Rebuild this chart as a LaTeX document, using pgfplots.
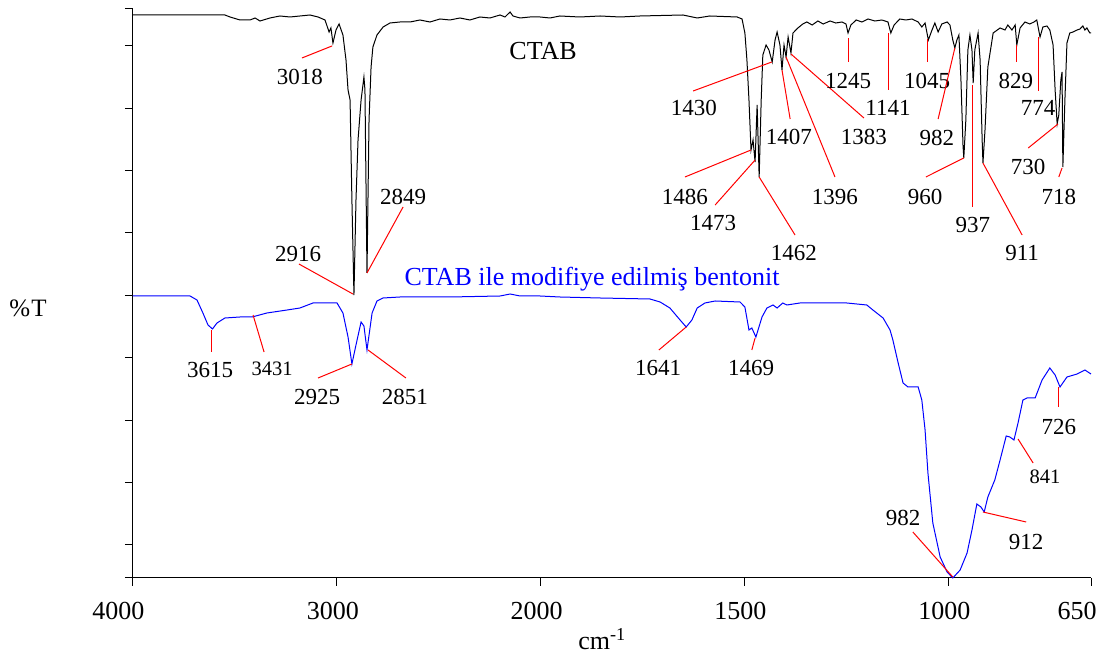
\documentclass[border=0pt]{standalone}
\usepackage{pgfplots}
\pgfplotsset{compat=1.18}
\usepackage{fontspec}
\setmainfont{Liberation Serif}
\definecolor{pblue}{RGB}{0,0,255}
\definecolor{pred}{RGB}{255,0,0}
\begin{document}
\begin{tikzpicture}[
  lab/.style={font=\fontsize{23}{23}\selectfont, inner sep=0pt, anchor=center},
  labs/.style={font=\fontsize{20.5}{20.5}\selectfont, inner sep=0pt, anchor=center},
  ann/.style={pred, line width=1pt},
]
\useasboundingbox (-133pt,-77pt) rectangle (976pt,578pt);
\begin{axis}[
  at={(0,0)}, anchor=south west,
  scale only axis, width=958pt, height=569pt,
  x coord trafo/.code={\pgfmathparse{#1>=2000 ? 4000-#1 : 6000-2*#1}},
  xmin=4000, xmax=650, ymin=0, ymax=569,
  axis lines=left, axis line style={-, line width=1pt},
  tick align=outside, major tick length=8pt,
  tick style={black, line width=1pt},
  xtick={4000,3000,2000,1500,1000,650},
  xticklabels={4000\hspace*{21pt},3000,2000,1500,1000,650\hspace*{20pt}},
  xticklabel style={font=\fontsize{26}{26}\selectfont, anchor=north, inner sep=0pt, xshift=-4pt, yshift=-16pt},
  ytick={0,33,95.4,157.8,220.2,282.6,345,407.4,469.8,532.2,569},
  yticklabels={},
  clip=false,
]
% CTAB
\addplot[black, line width=1pt] coordinates {
(4000,563)(3549,563)(3524,561)(3475,558)(3426,558)(3401,560)(3377,557)(3328,560)(3279,562)(3230,561)(3181,562)(3132,563)(3092,561)(3058,558)(3038,546)(3029,550)(3019,535)(3004,548)(2989,554)(2970,543)(2955,518)(2945,488)(2935,478)(2926,378)(2916,283)(2906,378)(2896,438)(2881,478)(2867,501)(2862,488)(2852,305)(2842,458)(2832,511)(2823,531)(2803,543)(2773,551)(2739,555)(2690,556)(2641,556)(2592,558)(2543,556)(2494,559)(2445,558)(2396,560)(2347,558)(2298,561)(2249,560)(2199,563)(2175,561)(2150,566)(2136,562)(2101,560)(2052,561)(2003,561)(1977,560)(1953,562)(1904,561)(1854,562)(1805,561)(1756,562)(1651,563)(1616,560)(1585,562)(1518,561)(1506,559)(1499,545)(1494,518)(1489,478)(1484,428)(1479,438)(1474,416)(1469,473)(1464,401)(1459,478)(1455,523)(1447,533)(1440,528)(1432,516)(1425,538)(1420,546)(1413,533)(1408,508)(1403,533)(1398,521)(1393,541)(1386,525)(1381,545)(1369,550)(1357,554)(1347,556)(1334,553)(1320,557)(1307,554)(1290,557)(1276,555)(1261,556)(1251,554)(1246,545)(1239,553)(1226,558)(1212,556)(1197,559)(1180,557)(1163,558)(1148,556)(1141,545)(1133,553)(1119,559)(1104,558)(1089,559)(1074,556)(1065,551)(1057,555)(1049,538)(1040,548)(1033,555)(1025,546)(1016,554)(1003,556)(996,553)(989,538)(984,530)(979,538)(974,543)(969,498)(964,433)(962,420)(957,458)(952,528)(947,543)(942,528)(939,495)(935,528)(927,545)(922,518)(917,438)(915,415)(910,448)(903,511)(890,545)(873,550)(861,548)(854,553)(844,548)(836,553)(832,533)(824,550)(812,556)(800,554)(790,556)(783,558)(775,541)(768,551)(758,552)(751,548)(743,533)(738,488)(733,454)(729,463)(724,498)(721,506)(719,411)(714,478)(709,535)(702,545)(694,546)(684,548)(677,549)(670,552)(665,548)(660,550)(653,545)(650,545)
};
% CTAB ile modifiye edilmis bentonit
\addplot[pblue, line width=1pt] coordinates {
(4000,282)(3720,282)(3686,278)(3657,265)(3632,253)(3610,249)(3588,255)(3549,260)(3475,261)(3416,261)(3343,265)(3244,268)(3181,270)(3117,275)(2999,275)(2970,265)(2945,241)(2926,214)(2906,233)(2881,256)(2867,252)(2852,228)(2827,265)(2803,277)(2773,280)(2690,281)(2445,281)(2199,282)(2150,284)(2101,282)(2003,282)(1953,281)(1854,280)(1732,279)(1707,276)(1683,270)(1658,258)(1643,251)(1629,258)(1616,270)(1597,275)(1572,277)(1511,276)(1499,271)(1489,248)(1482,250)(1472,241)(1457,261)(1445,270)(1430,273)(1420,270)(1406,275)(1396,273)(1364,275)(1249,275)(1200,273)(1185,268)(1160,260)(1143,248)(1136,238)(1123,215)(1111,195)(1099,191)(1074,191)(1065,178)(1057,148)(1050,105)(1038,55)(1020,21)(1003,6)(989,0)(971,8)(954,25)(942,48)(930,74)(920,71)(912,66)(903,81)(886,98)(873,118)(858,142)(849,141)(839,138)(829,155)(817,178)(807,180)(787,180)(770,198)(751,210)(738,203)(726,191)(709,201)(684,204)(665,208)(650,204)
};
% series titles
\node[font=\fontsize{26}{26}\selectfont, inner sep=0pt, anchor=base] at (axis cs:1994,518) {CTAB};
\node[font=\fontsize{26}{26}\selectfont, inner sep=0pt, anchor=base, text=pblue] at (axis cs:1874,292) {CTAB ile modifiye edilmiş bentonit};
% CTAB annotations
\draw[ann] (axis cs:3171,520) -- (axis cs:3024,532); \node[lab] at (axis cs:3181,501) {3018};
\draw[ann] (axis cs:3186,314) -- (axis cs:2921,284); \node[lab] at (axis cs:3190,324) {2916};
\draw[ann] (axis cs:2675,371) -- (axis cs:2852,305); \node[lab] at (axis cs:2675,381) {2849};
\draw[ann] (axis cs:1626,487) -- (axis cs:1433,516); \node[lab] at (axis cs:1624,470) {1430};
\draw[ann] (axis cs:1646,401) -- (axis cs:1484,428); \node[lab] at (axis cs:1646,381) {1486};
\draw[ann] (axis cs:1572,373) -- (axis cs:1474,418); \node[lab] at (axis cs:1577,355) {1473};
\draw[ann] (axis cs:1376,343) -- (axis cs:1464,401); \node[lab] at (axis cs:1379,325) {1462};
\draw[ann] (axis cs:1388,459) -- (axis cs:1408,508); \node[lab] at (axis cs:1391,441) {1407};
\draw[ann] (axis cs:1278,401) -- (axis cs:1398,521); \node[lab] at (axis cs:1278,381) {1396};
\draw[ann] (axis cs:1207,460) -- (axis cs:1386,524); \node[lab] at (axis cs:1207,441) {1383};
\draw[ann] (axis cs:1246,516) -- (axis cs:1246,540); \node[lab] at (axis cs:1246,497) {1245};
\draw[ann] (axis cs:1146,488) -- (axis cs:1146,545); \node[lab] at (axis cs:1148,470) {1141};
\draw[ann] (axis cs:1050,516) -- (axis cs:1050,539); \node[lab] at (axis cs:1052,497) {1045};
\draw[ann] (axis cs:1025,459) -- (axis cs:984,530); \node[lab] at (axis cs:1028,440) {982};
\draw[ann] (axis cs:1055,401) -- (axis cs:962,420); \node[lab] at (axis cs:1057,381) {960};
\draw[ann] (axis cs:940,371) -- (axis cs:940,493); \node[lab] at (axis cs:940,353) {937};
\draw[ann] (axis cs:819,343) -- (axis cs:915,415); \node[lab] at (axis cs:819,325) {911};
\draw[ann] (axis cs:832,516) -- (axis cs:832,533); \node[lab] at (axis cs:834,497) {829};
\draw[ann] (axis cs:778,487) -- (axis cs:778,541); \node[lab] at (axis cs:780,470) {774};
\draw[ann] (axis cs:804,430) -- (axis cs:731,454); \node[lab] at (axis cs:804,411) {730};
\draw[ann] (axis cs:729,401) -- (axis cs:721,410); \node[lab] at (axis cs:729,381) {718};
% bentonite annotations
\draw[ann] (axis cs:3617,226) -- (axis cs:3617,248); \node[lab] at (axis cs:3622,208) {3615};
\draw[ann] (axis cs:3357,226) -- (axis cs:3411,263); \node[labs] at (axis cs:3318,209) {3431};
\draw[ann] (axis cs:3092,200) -- (axis cs:2926,214); \node[lab] at (axis cs:3097,181) {2925};
\draw[ann] (axis cs:2661,200) -- (axis cs:2847,228); \node[lab] at (axis cs:2666,181) {2851};
\draw[ann] (axis cs:1710,228) -- (axis cs:1643,251); \node[lab] at (axis cs:1712,210) {1641};
\draw[ann] (axis cs:1482,228) -- (axis cs:1474,240); \node[lab] at (axis cs:1484,210) {1469};
\draw[ann] (axis cs:729,171) -- (axis cs:729,191); \node[lab] at (axis cs:729,151) {726};
\draw[ann] (axis cs:792,115) -- (axis cs:829,139); \node[labs] at (axis cs:763,101) {841};
\draw[ann] (axis cs:809,56) -- (axis cs:915,66); \node[lab] at (axis cs:809,36) {912};
\draw[ann] (axis cs:1087,46) -- (axis cs:989,1); \node[lab] at (axis cs:1111,60) {982};
% axis labels
\node[font=\fontsize{26}{26}\selectfont, inner sep=0pt, anchor=base] at (axis description cs:0.4896,0) [yshift=-72pt] {cm\textsuperscript{-1}};
\node[font=\fontsize{25}{25}\selectfont, inner sep=0pt, anchor=center] at (axis description cs:-0.1096,0.4745) {\%\kern1pt T};
\end{axis}
\end{tikzpicture}
\end{document}
